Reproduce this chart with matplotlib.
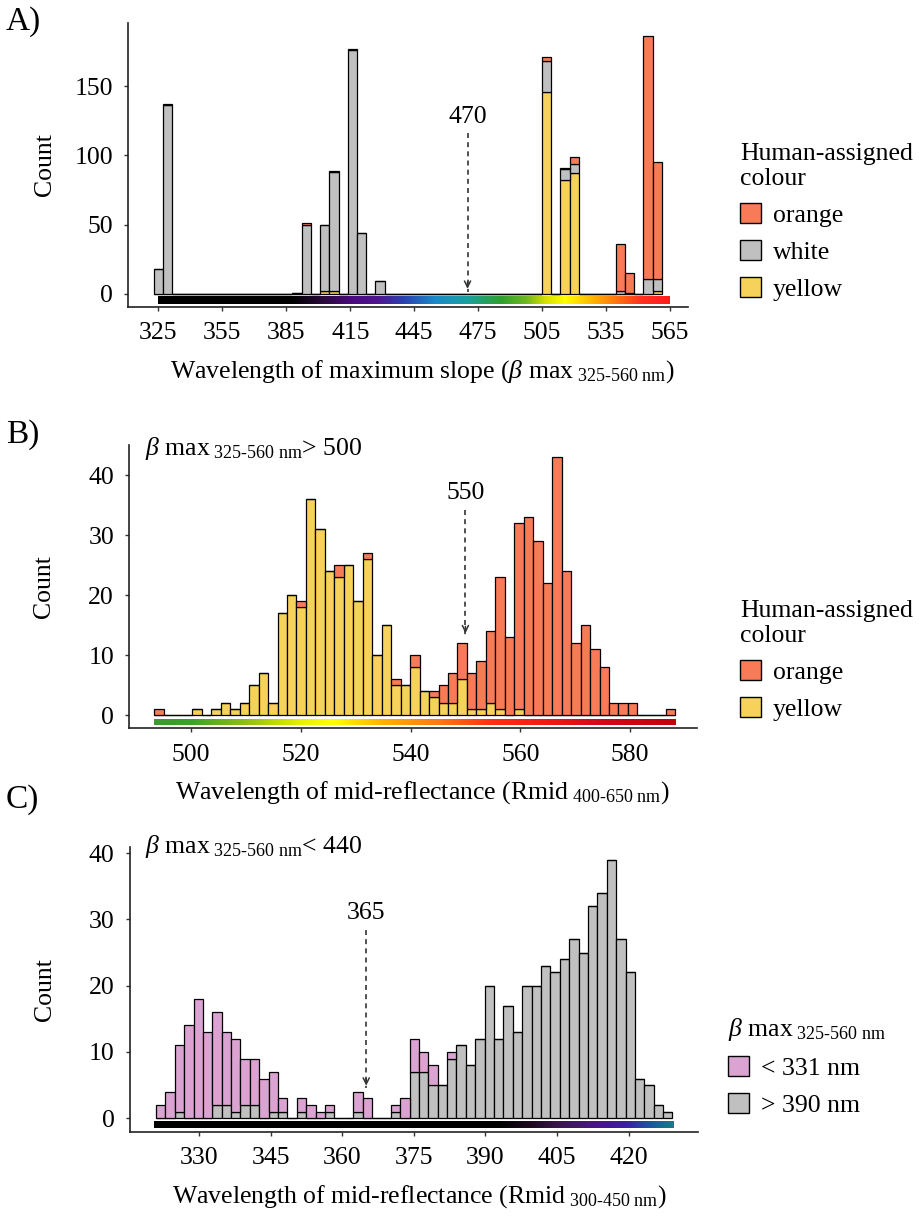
import numpy as np
import matplotlib
matplotlib.use('Agg')
import matplotlib.pyplot as plt
from matplotlib.colors import LinearSegmentedColormap
from matplotlib.patches import Patch

# ---- data (counts per bin, 55 bins per panel) ----
# panel A: wavelength of maximum slope, bins centred on 325 + i*4.333
a_first, a_width = 325.0, 4.3333
yellow_a = [0, 0, 0, 0, 0, 0, 0, 0, 0, 0, 0,
            0, 0, 0, 0, 0, 0, 0, 2, 2, 0, 0,
            0, 0, 0, 0, 0, 0, 0, 0, 0, 0, 0,
            0, 0, 0, 0, 0, 0, 0, 0, 0, 146, 0,
            82, 87, 0, 0, 0, 0, 0, 0, 0, 0, 2]
white_a = [18, 136, 0, 0, 0, 0, 0, 0, 0, 0, 0,
           0, 0, 0, 0, 1, 50, 0, 48, 86, 0, 176,
           44, 0, 9, 0, 0, 0, 0, 0, 0, 0, 0,
           0, 0, 0, 0, 0, 0, 0, 0, 0, 22, 0,
           8, 7, 0, 0, 0, 0, 2, 1, 0, 11, 9]
orange_a = [0, 1, 0, 0, 0, 0, 0, 0, 0, 0, 0,
            0, 0, 0, 0, 0, 1, 0, 0, 1, 0, 1,
            0, 0, 0, 0, 0, 0, 0, 0, 0, 0, 0,
            0, 0, 0, 0, 0, 0, 0, 0, 0, 3, 0,
            1, 5, 0, 0, 0, 0, 34, 14, 0, 175, 84]

# panel B: mid-reflectance (400-650 nm), beta max > 500
b_first, b_width = 494.2, 1.7255
yellow_b = [0, 0, 0, 0, 1, 0, 1, 2, 1, 2, 5,
            7, 2, 17, 20, 18, 36, 31, 24, 23, 25,
            19, 26, 10, 15, 5, 5, 8, 4, 3, 2,
            2, 6, 1, 1, 2, 1, 0, 1, 0, 0,
            0, 0, 0, 0, 0, 0, 0, 0, 0, 0,
            0, 0, 0, 0]
orange_b = [1, 0, 0, 0, 0, 0, 0, 0, 0, 0, 0,
            0, 0, 0, 0, 1, 0, 0, 0, 2, 0,
            0, 1, 0, 0, 1, 0, 2, 0, 1, 3,
            5, 6, 6, 8, 12, 22, 13, 31, 33, 29,
            22, 43, 24, 12, 15, 11, 8, 2, 2, 2,
            0, 0, 0, 1]

# panel C: mid-reflectance (300-450 nm), beta max < 440
c_first, c_width = 321.9, 1.969
low_c = [2, 4, 10, 14, 18, 13, 14, 11, 11, 7, 7,
         6, 6, 2, 0, 2, 2, 1, 1, 0, 0,
         3, 3, 0, 0, 1, 3, 5, 3, 3, 0,
         1, 0, 0, 0, 0, 0, 0, 0, 0, 0,
         0, 0, 0, 0, 0, 0, 0, 0, 0, 0,
         0, 0, 0, 0]
high_c = [0, 0, 1, 0, 0, 0, 2, 2, 1, 2, 2,
          0, 1, 1, 0, 1, 0, 0, 1, 0, 0,
          1, 0, 0, 0, 1, 0, 7, 7, 5, 5,
          9, 11, 8, 12, 20, 12, 17, 13, 20, 20,
          23, 22, 24, 27, 25, 32, 34, 39, 27, 22,
          6, 5, 2, 1]

ticks_a = [325, 355, 385, 415, 445, 475, 505, 535, 565]
ticks_b = [500, 520, 540, 560, 580]
ticks_c = [330, 345, 360, 375, 390, 405, 420]

c_orange, c_white, c_yellow = '#F77B56', '#C0C0C0', '#F6D25A'
c_low, c_high = '#DBA3D2', '#C0C0C0'

FS = 18.5
plt.rcParams['font.family'] = ['Liberation Serif', 'DejaVu Serif']
plt.rcParams['mathtext.fontset'] = 'custom'
plt.rcParams['mathtext.rm'] = 'Liberation Serif'
plt.rcParams['mathtext.it'] = 'Liberation Serif:italic'
plt.rcParams['font.size'] = FS

W, H = 919, 1222
fig = plt.figure(figsize=(W / 100, H / 100), dpi=100)


def add_ax(l, t, r, b):
    return fig.add_axes([l / W, 1 - b / H, (r - l) / W, (b - t) / H])


def style(ax, xticks, yticks, xlim, ylim):
    for s in ['top', 'right']:
        ax.spines[s].set_visible(False)
    for s in ['left', 'bottom']:
        ax.spines[s].set_linewidth(1.2)
        ax.spines[s].set_color('#222222')
    ax.set_xticks(xticks)
    ax.set_yticks(yticks)
    ax.set_xlim(*xlim)
    ax.set_ylim(*ylim)
    ax.tick_params(length=3, width=1, pad=8, labelsize=FS, color='#333333')


def stacked(ax, first, width, layers):
    x = first + width * np.arange(55)
    bottom = np.zeros(55)
    for vals, col in layers:
        vals = np.array(vals, dtype=float)
        ax.bar(x, vals, width, bottom=bottom, color=col, edgecolor='black',
               linewidth=0.9, zorder=3)
        bottom += vals


def gradient(ax, stops, y0, y1):
    x0, x1 = stops[0][0], stops[-1][0]
    cmap = LinearSegmentedColormap.from_list(
        'g', [((w - x0) / (x1 - x0), c) for w, c in stops])
    ax.imshow(np.linspace(0, 1, 512)[None, :], cmap=cmap, aspect='auto',
              extent=(x0, x1, y1, y0), zorder=2)


def marker(ax, x, y_text, y_start, y_tip, label):
    ax.plot([x, x], [y_start, y_tip], color='#333333', lw=1.2,
            ls=(0, (3, 2.5)), zorder=4)
    ax.annotate('', xy=(x, y_tip), xytext=(0, 9), textcoords='offset points',
                arrowprops=dict(arrowstyle='->', color='#333333', lw=1.1,
                                mutation_scale=11), zorder=4)
    ax.text(x, y_text, label, ha='center', va='center', fontsize=FS)


def legend(ax, handles, title, left, top):
    lg = ax.legend(handles=handles, title=title, loc='upper left',
                   bbox_to_anchor=(left / W, 1 - top / H),
                   bbox_transform=fig.transFigure, frameon=False,
                   borderpad=0, borderaxespad=0, handlelength=0.82,
                   handleheight=0.82, handletextpad=0.45, labelspacing=0.5,
                   alignment='left', fontsize=FS, title_fontsize=FS)
    return lg


# ---- A ----
ax = add_ax(128.3, 23, 688, 307)
stacked(ax, a_first, a_width, [(yellow_a, c_yellow), (white_a, c_white), (orange_a, c_orange)])
gradient(ax, [(325, '#000000'), (388, '#000000'), (402, '#2a0a3a'), (416, '#4a0a80'),
              (428, '#50168f'), (440, '#2a40b0'), (455, '#1a8ac8'), (470, '#1aa0a0'),
              (486, '#2ea02e'), (498, '#70b820'), (507, '#d8e000'), (516, '#ffff00'),
              (530, '#ffb000'), (541, '#ff7010'), (552, '#ff3020'), (565, '#ff1e1e')],
         -1.9, -7.4)
style(ax, ticks_a, [0, 50, 100, 150], (310.9, 573.4), (-9.4, 195.5))
marker(ax, 470, 128, 116, 1.7, '470')
ax.set_ylabel('Count', fontsize=FS)
ax.yaxis.set_label_coords(-0.13, 0.5)
ax.set_xlabel(r'Wavelength of maximum slope ($\beta$ max$_{\text{ 325-560 nm}}$)', fontsize=FS)
ax.xaxis.set_label_coords(0.525, -0.18)
legend(ax, [Patch(fc=c_orange, ec='black', lw=1, label='orange'),
            Patch(fc=c_white, ec='black', lw=1, label='white'),
            Patch(fc=c_yellow, ec='black', lw=1, label='yellow')],
       'Human-assigned\ncolour', 740, 143)

# ---- B ----
ax = add_ax(129.3, 445, 697, 728.3)
stacked(ax, b_first, b_width, [(yellow_b, c_yellow), (orange_b, c_orange)])
gradient(ax, [(493.3, '#3a9a2e'), (500, '#40a028'), (510, '#90c010'), (520, '#e8f000'),
              (526, '#ffff00'), (535, '#ffb000'), (545, '#ff7a10'), (555, '#ff3010'),
              (565, '#ee1a1a'), (575, '#d00a18'), (588.4, '#c0000a')],
         -0.67, -1.67)
style(ax, ticks_b, [0, 10, 20, 30, 40], (488.76, 592.2), (-2.17, 45.05))
marker(ax, 550, 37, 34.2, 13.2, '550')
ax.set_ylabel('Count', fontsize=FS)
ax.yaxis.set_label_coords(-0.13, 0.5)
ax.set_xlabel(r'Wavelength of mid-reflectance (Rmid$_{\text{ 400-650 nm}}$)', fontsize=FS)
ax.xaxis.set_label_coords(0.516, -0.18)
legend(ax, [Patch(fc=c_orange, ec='black', lw=1, label='orange'),
            Patch(fc=c_yellow, ec='black', lw=1, label='yellow')],
       'Human-assigned\ncolour', 740, 600)

# ---- C ----
ax = add_ax(130, 846.7, 697.7, 1131.7)
stacked(ax, c_first, c_width, [(high_c, c_high), (low_c, c_low)])
gradient(ax, [(320.6, '#000000'), (393, '#000000'), (400, '#1e0a20'), (406, '#3a1850'),
              (414, '#4a148a'), (420, '#3a20a0'), (425, '#1a5a9a'), (429.6, '#1a7a8a')],
         -0.5, -1.5)
style(ax, ticks_c, [0, 10, 20, 30, 40], (315.47, 434.5), (-2.02, 40.96))
marker(ax, 365, 31, 28.4, 4.5, '365')
ax.set_ylabel('Count', fontsize=FS)
ax.yaxis.set_label_coords(-0.13, 0.5)
ax.set_xlabel(r'Wavelength of mid-reflectance (Rmid$_{\text{ 300-450 nm}}$)', fontsize=FS)
ax.xaxis.set_label_coords(0.51, -0.18)
legend(ax, [Patch(fc=c_low, ec='black', lw=1, label='< 331 nm'),
            Patch(fc=c_high, ec='black', lw=1, label='> 390 nm')],
       r'$\beta$ max$_{\text{ 325-560 nm}}$', 728, 1016)

# panel letters and subset notes
fig.text(6 / W, 1 - 22 / H, 'A)', fontsize=24, va='center')
fig.text(6 / W, 1 - 435 / H, 'B)', fontsize=24, va='center')
fig.text(6 / W, 1 - 800 / H, 'C)', fontsize=24, va='center')
fig.text(145 / W, 1 - 455 / H, r'$\beta$ max$_{\text{ 325-560 nm}}$> 500', fontsize=FS, va='baseline')
fig.text(145 / W, 1 - 853 / H, r'$\beta$ max$_{\text{ 325-560 nm}}$< 440', fontsize=FS, va='baseline')

fig.savefig('out.png', dpi=100)
